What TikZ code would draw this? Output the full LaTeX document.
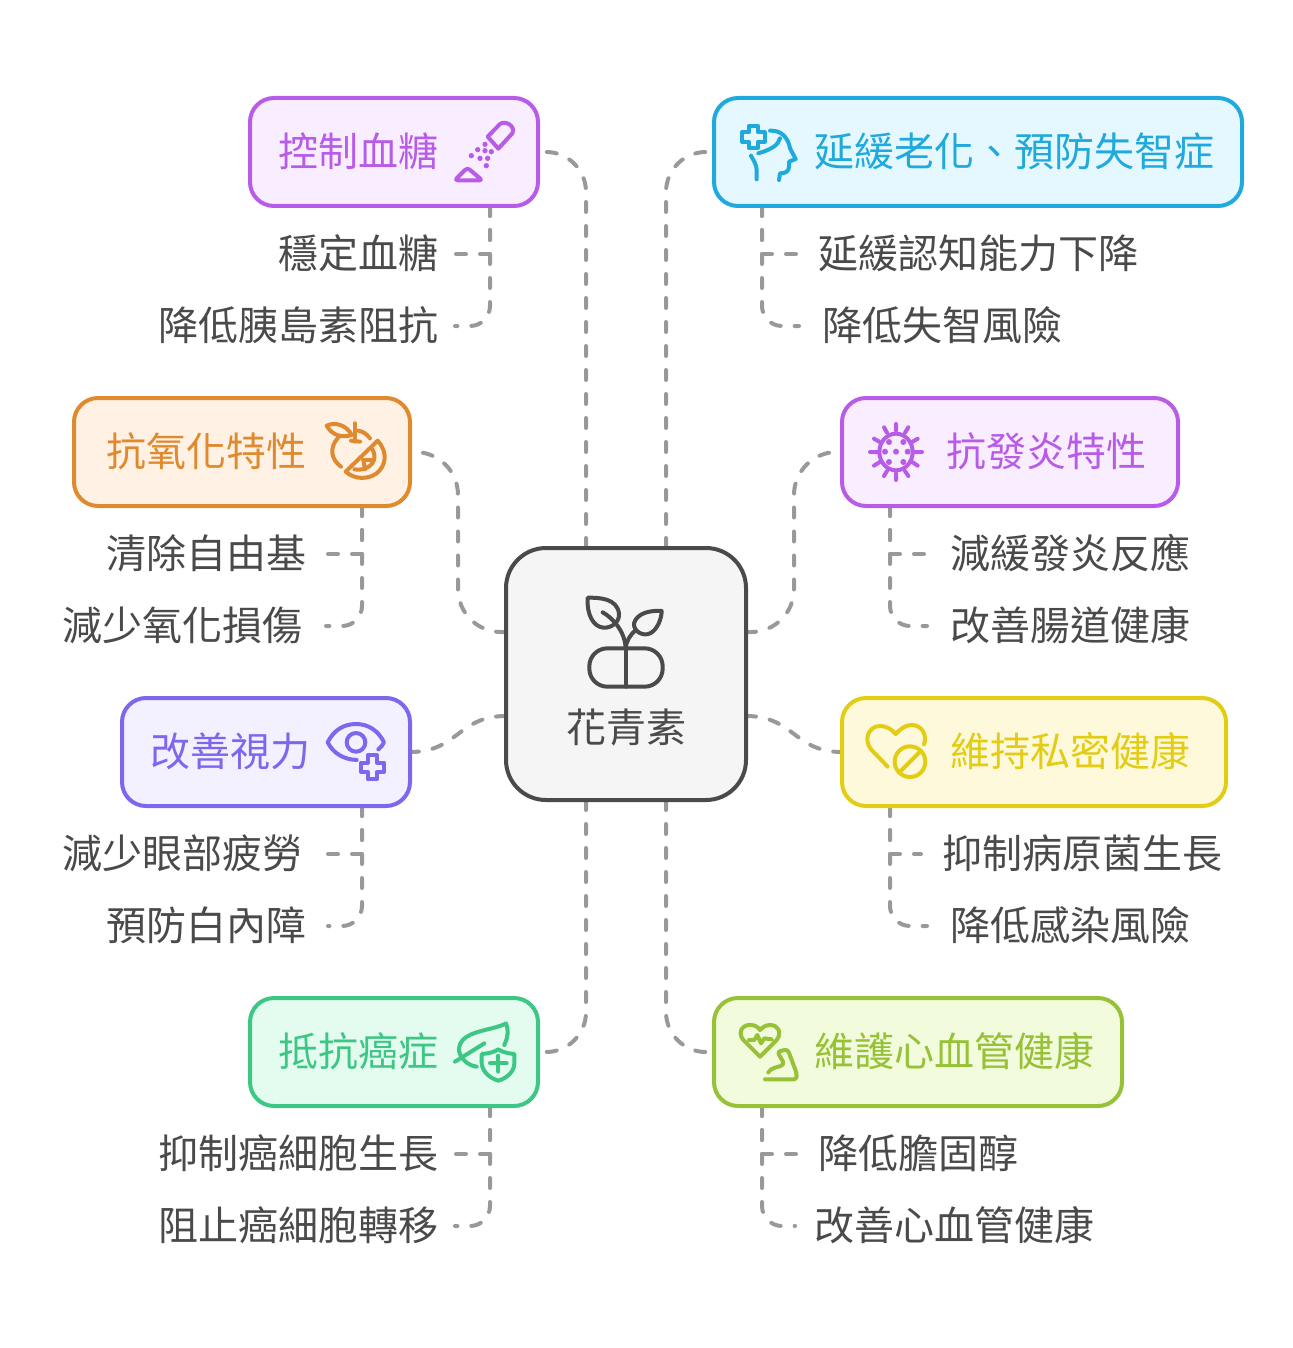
\documentclass[tikz,border=0pt]{standalone}
\usepackage{fontspec}
\setmainfont{Noto Sans CJK TC}
\pgfdeclarelayer{bg}
\pgfsetlayers{bg,main}
\definecolor{ink}{HTML}{4A4A4A}
\definecolor{linkgrey}{HTML}{999999}
\definecolor{pur}{HTML}{B85CE8}\definecolor{purf}{HTML}{F9EEFF}
\definecolor{blu}{HTML}{1FA9DC}\definecolor{bluf}{HTML}{E5F8FF}
\definecolor{ora}{HTML}{E08A30}\definecolor{oraf}{HTML}{FFF1E4}
\definecolor{vio}{HTML}{7E66EE}\definecolor{viof}{HTML}{F3F0FF}
\definecolor{yel}{HTML}{E3CC14}\definecolor{yelf}{HTML}{FFF9DC}
\definecolor{gre}{HTML}{3DC785}\definecolor{gref}{HTML}{E4FBF0}
\definecolor{lim}{HTML}{97C136}\definecolor{limf}{HTML}{F2FCDD}
\tikzset{
  x=1pt,y=-1pt,
  txt/.style={inner sep=0pt,outer sep=0pt,anchor=center,text height=34.5pt,text depth=5.5pt,font=\fontsize{40}{46}\selectfont},
  sub/.style={txt,text=ink},
  headtxt/.style={txt,text=#1},
  card/.style n args={3}{draw=#1,fill=#2,line width=4pt,rounded corners=24pt,minimum height=108pt,minimum width=#3,inner sep=0pt,outer sep=0pt},
  hub/.style={draw=ink,fill=black!4,line width=4pt,rounded corners=40pt,minimum width=240pt,minimum height=252pt,inner sep=0pt,outer sep=0pt},
  conn/.style={draw=linkgrey,line width=4pt,line cap=round,dash pattern=on 10pt off 14pt},
  bendline/.style={conn,rounded corners=40pt},
  twig/.style={conn,rounded corners=20pt},
  ico/.style={draw=#1,line width=4pt,line cap=round,line join=round},
  zoomed/.style={shift={#1},x=.33333pt,y=-.33333pt},
}
\begin{document}
\begin{tikzpicture}
\useasboundingbox (0,0) rectangle (1292,1348);
% cards
\node[hub] (hb) at (626,674) {};
\node[card={pur}{purf}{288pt}] (kz) at (394,152) {};
\node[card={blu}{bluf}{528pt}] (ya) at (978,152) {};
\node[card={ora}{oraf}{336pt}] (ox) at (242,452) {};
\node[card={pur}{purf}{336pt}] (fy) at (1010,452) {};
\node[card={vio}{viof}{288pt}] (sl) at (266,752) {};
\node[card={yel}{yelf}{384pt}] (sm) at (1034,752) {};
\node[card={gre}{gref}{288pt}] (ca) at (394,1052) {};
\node[card={lim}{limf}{408pt}] (xn) at (918,1052) {};
% headings
\node[sub] (hbt) at (626,728) {花青素};
\node[headtxt=pur] (kzt) at (358,152) {控制血糖};
\node[headtxt=blu] (yat) at (1014,152) {延緩老化、預防失智症};
\node[headtxt=ora] (oxt) at (206,452) {抗氧化特性};
\node[headtxt=pur] (fyt) at (1046,452) {抗發炎特性};
\node[headtxt=vio] (slt) at (230,752) {改善視力};
\node[headtxt=yel] (smt) at (1070,752) {維持私密健康};
\node[headtxt=gre] (cat) at (358,1052) {抵抗癌症};
\node[headtxt=lim] (xnt) at (954,1052) {維護心血管健康};
% sub items
\node[sub] (a1) at (358,254) {穩定血糖};
\node[sub] (a2) at (298,326) {降低胰島素阻抗};
\node[sub] (b1) at (978,254) {延緩認知能力下降};
\node[sub] (b2) at (942,326) {降低失智風險};
\node[sub] (c1) at (206,554) {清除自由基};
\node[sub] (c2) at (182,626) {減少氧化損傷};
\node[sub] (d1) at (1070,554) {減緩發炎反應};
\node[sub] (d2) at (1070,626) {改善腸道健康};
\node[sub] (e1) at (182,854) {減少眼部疲勞};
\node[sub] (e2) at (206,926) {預防白內障};
\node[sub] (f1) at (1082,854) {抑制病原菌生長};
\node[sub] (f2) at (1070,926) {降低感染風險};
\node[sub] (g1) at (298,1154) {抑制癌細胞生長};
\node[sub] (g2) at (298,1226) {阻止癌細胞轉移};
\node[sub] (h1) at (918,1154) {降低膽固醇};
\node[sub] (h2) at (954,1226) {改善心血管健康};
% connectors
\begin{pgfonlayer}{bg}
\coordinate (m3) at (458,542);
\coordinate (m4) at (794,542);
\draw[bendline] ([xshift=-40pt]hb.north) |- (kz.east);
\draw[bendline] ([xshift=40pt]hb.north) |- (ya.west);
\draw[bendline,rounded corners=43pt] ([yshift=42pt]hb.west) -| (m3) |- ([xshift=8pt]ox.east);
\draw[bendline,rounded corners=43pt] ([yshift=42pt]hb.east) -| (m4) |- ([xshift=-8pt]fy.west);
\draw[conn] ([yshift=-42pt]hb.west) .. controls +(-48,0) and +(48,0) .. (sl.east);
\draw[conn] ([yshift=-42pt]hb.east) .. controls +(48,0) and +(-48,0) .. (sm.west);
\draw[bendline] ([xshift=-40pt]hb.south) |- (ca.east);
\draw[bendline] ([xshift=40pt]hb.south) |- (xn.west);
% left lists
\draw[conn] ([xshift=96pt]kz.south) |- ([xshift=17pt]a1.east);
\draw[twig] ([xshift=96pt]kz.south) |- ([xshift=17pt]a2.east);
\draw[conn] ([xshift=120pt]ox.south) |- ([xshift=22pt]c1.east);
\draw[twig] ([xshift=120pt]ox.south) |- ([xshift=24pt]c2.east);
\draw[conn] ([xshift=96pt]sl.south) |- ([xshift=22pt]e1.east);
\draw[twig] ([xshift=96pt]sl.south) |- ([xshift=22pt]e2.east);
\draw[conn] ([xshift=96pt]ca.south) |- ([xshift=17pt]g1.east);
\draw[twig] ([xshift=96pt]ca.south) |- ([xshift=17pt]g2.east);
% right lists
\draw[conn] ([xshift=-216pt]ya.south) |- ([xshift=-21pt]b1.west);
\draw[twig] ([xshift=-216pt]ya.south) |- ([xshift=-23pt]b2.west);
\draw[conn] ([xshift=-120pt]fy.south) |- ([xshift=-22pt]d1.west);
\draw[twig] ([xshift=-120pt]fy.south) |- ([xshift=-23pt]d2.west);
\draw[conn] ([xshift=-144pt]sm.south) |- ([xshift=-21pt]f1.west);
\draw[twig] ([xshift=-144pt]sm.south) |- ([xshift=-23pt]f2.west);
\draw[conn] ([xshift=-156pt]xn.south) |- ([xshift=-21pt]h1.west);
\draw[twig] ([xshift=-156pt]xn.south) |- ([xshift=-19pt]h2.west);
\end{pgfonlayer}
% icon: salt
\begin{scope}[zoomed={(440,100)}]
\draw[ico=pur] (143,110) -- (180,72) .. controls (195,60) and (228,78) .. (217,100) -- (175,146) -- cycle;
\draw[ico=pur,rounded corners=3pt] (82,203) -- (44,241) -- (127,241) -- cycle;
\fill[pur] (135,133) circle (8) (113,149) circle (8) (135,152) circle (8) (154,155) circle (8) (94,167) circle (8) (120,175) circle (8) (143,175) circle (8) (139,197) circle (8);
\end{scope}
% icon: head
\begin{scope}[zoomed={(725,110)}]
\draw[ico=blu] (71,48) -- (99,48) -- (99,67) -- (119,67) -- (119,95) -- (99,95) -- (99,114) -- (71,114) -- (71,95) -- (51,95) -- (51,67) -- (71,67) -- cycle;
\draw[ico=blu] (135,62) .. controls (170,60) and (190,85) .. (195,115) -- (212,147) -- (192,155) -- (192,170) .. controls (192,185) and (180,190) .. (165,190) -- (162,210);
\draw[ico=blu] (165,85) .. controls (160,105) and (140,118) .. (100,130);
\draw[ico=blu] (78,137) .. controls (85,150) and (95,165) .. (95,180) -- (95,208);
\end{scope}
% icon: orange
\begin{scope}[zoomed={(315,410)}]
\draw[ico=ora] (70,82) .. controls (40,115) and (50,150) .. (78,170);
\draw[ico=ora] (130,62) .. controls (145,65) and (155,72) .. (165,85);
\draw[ico=ora] (35,47) .. controls (60,35) and (95,45) .. (110,75) .. controls (80,85) and (50,75) .. (35,47);
\draw[ico=ora] (120,40) -- (120,95);
\draw[ico=ora] (108,92) -- (135,95);
\draw[ico=ora] (92,185) -- (188,92) .. controls (222,130) and (210,170) .. (185,190) .. controls (160,208) and (120,210) .. (92,185);
\draw[ico=ora] (172,118) .. controls (190,145) and (170,185) .. (118,178);
\draw[ico=ora] (145,150) -- (172,150);
\draw[ico=ora] (145,150) -- (150,178);
\end{scope}
% icon: virus
\begin{scope}[zoomed={(855,410)}]
\draw[ico=pur] (123,126) ellipse (50 and 55);
\draw[ico=pur] (123,42) -- (123,62) (123,190) -- (123,210) (45,126) -- (70,126) (175,126) -- (201,126) (87,52) -- (96,68) (160,52) -- (150,68) (57,86) -- (76,97) (188,86) -- (170,97) (57,167) -- (76,155) (188,167) -- (170,155) (87,198) -- (96,183) (160,198) -- (150,183);
\fill[pur] (102,96) circle (9) (145,96) circle (9) (90,125) circle (9) (123,125) circle (9) (158,125) circle (9) (102,156) circle (9) (145,156) circle (9);
\end{scope}
% icon: eye
\begin{scope}[zoomed={(315,710)}]
\draw[ico=vio] (190,118) .. controls (198,112) and (204,104) .. (207,97) .. controls (190,62) and (160,42) .. (123,42) .. controls (85,42) and (55,62) .. (38,97) .. controls (55,130) and (85,148) .. (125,150);
\draw[ico=vio] (123,97) circle (28);
\draw[ico=vio] (158,136) -- (186,136) -- (186,158) -- (206,158) -- (206,186) -- (186,186) -- (186,208) -- (158,208) -- (158,186) -- (138,186) -- (138,158) -- (158,158) -- cycle;
\end{scope}
% icon: heart with ban
\begin{scope}[zoomed={(855,710)}]
\draw[ico=yel] (98,170) -- (48,118) .. controls (25,90) and (40,48) .. (75,48) .. controls (95,48) and (110,58) .. (122,72) .. controls (135,58) and (150,45) .. (170,45) .. controls (200,45) and (218,75) .. (207,103);
\draw[ico=yel] (165,155) circle (46);
\draw[ico=yel] (133,187) -- (197,123);
\end{scope}
% icon: leaf and shield
\begin{scope}[zoomed={(445,1010)}]
\draw[ico=gre] (30,155) -- (118,100);
\draw[ico=gre] (95,170) .. controls (60,165) and (40,135) .. (42,115) .. controls (45,75) and (100,65) .. (140,55) .. controls (160,50) and (175,45) .. (183,40) .. controls (192,60) and (188,85) .. (178,105);
\draw[ico=gre] (110,132) .. controls (135,130) and (150,125) .. (160,118) .. controls (170,125) and (185,130) .. (208,132) -- (208,160) .. controls (208,185) and (185,205) .. (160,212) .. controls (135,205) and (112,185) .. (110,160) -- cycle;
\draw[ico=gre] (160,137) -- (160,185) (135,160) -- (185,160);
\end{scope}
% icon: heart and arm
\begin{scope}[zoomed={(725,1010)}]
\draw[ico=lim] (105,140) -- (55,90) .. controls (35,65) and (55,42) .. (78,45) .. controls (90,45) and (100,52) .. (105,60) .. controls (112,52) and (122,45) .. (135,45) .. controls (160,45) and (172,68) .. (155,90) -- cycle;
\draw[ico=lim] (72,90) -- (88,90) -- (97,75) -- (108,100) -- (118,85) -- (140,88);
\draw[ico=lim,rounded corners=3pt] (130,187) .. controls (138,172) and (160,172) .. (178,162) -- (157,125) -- (188,118) -- (215,190) -- (215,208) -- (120,208);
\end{scope}
% icon: hub sprout
\begin{scope}[zoomed={(570,585)}]
\draw[ico=ink] (53,38) .. controls (90,38) and (140,40) .. (147,85) .. controls (150,110) and (125,130) .. (100,128) .. controls (70,125) and (50,90) .. (53,38) -- cycle;
\draw[ico=ink] (98,82) .. controls (130,100) and (165,140) .. (167,190);
\draw[ico=ink] (275,78) .. controls (240,75) and (200,85) .. (192,115) .. controls (190,140) and (220,155) .. (240,145) .. controls (262,135) and (275,100) .. (275,78) -- cycle;
\draw[ico=ink] (197,135) .. controls (180,150) and (168,170) .. (167,190);
\draw[ico=ink,rounded corners=18pt] (58,190) rectangle (278,305);
\draw[ico=ink] (167,190) -- (167,305);
\end{scope}
\end{tikzpicture}
\end{document}
